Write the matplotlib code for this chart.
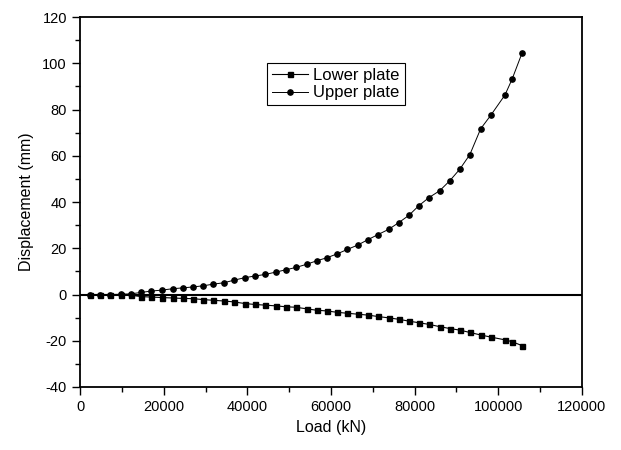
import matplotlib
matplotlib.use("Agg")
import matplotlib.pyplot as plt
from matplotlib.ticker import MultipleLocator

plt.rcParams['font.family'] = ['Liberation Sans', 'DejaVu Sans']
plt.rcParams['axes.unicode_minus'] = False

# load steps (kN), shared by both plates
load = [2400, 4800, 7200, 9700, 12100, 14600, 17000, 19500, 22100, 24700,
        27100, 29500, 31900, 34400, 36800, 39400, 41800, 44300, 46800, 49200,
        51600, 54200, 56600, 59000, 61500, 63900, 66400, 68800, 71200, 73800,
        76200, 78600, 81000, 83400, 86000, 88400, 90800, 93200, 95800, 98200,
        101600, 103300, 105700]

lower_plate = [0, 0, 0, 0, -0.3, -0.9, -1.1, -1.3, -1.5, -1.7,
               -1.8, -2.2, -2.5, -2.8, -3.2, -3.9, -4.3, -4.6, -4.9, -5.3,
               -5.5, -6.2, -6.8, -7.1, -7.7, -8.1, -8.5, -8.9, -9.5, -10.1,
               -10.7, -11.5, -12.2, -12.9, -13.9, -14.7, -15.4, -16.4, -17.5, -18.4,
               -19.6, -20.4, -22.1]

upper_plate = [0, 0, 0, 0.1, 0.3, 0.9, 1.5, 1.9, 2.5, 2.9,
               3.3, 3.8, 4.5, 5.1, 6.2, 7.3, 8.0, 8.7, 9.7, 10.7,
               11.7, 13.1, 14.6, 15.9, 17.6, 19.5, 21.4, 23.7, 25.9, 28.2,
               31.1, 34.2, 38.4, 41.9, 44.9, 49.2, 54.2, 60.5, 71.7, 77.5,
               86.3, 93.1, 104.5]

fig = plt.figure(figsize=(6.21, 4.5), dpi=100)
ax = fig.add_axes([0.129, 0.14, 0.808, 0.822])

ax.plot(load, lower_plate, color='black', lw=0.8, marker='s', ms=3.6,
        label='Lower plate')
ax.plot(load, upper_plate, color='black', lw=0.7, marker='o', ms=3.8,
        label='Upper plate')
ax.axhline(0, color='black', lw=1.5, zorder=1)

ax.set_xlim(0, 120000)
ax.set_ylim(-40, 120)
ax.xaxis.set_major_locator(MultipleLocator(20000))
ax.xaxis.set_minor_locator(MultipleLocator(10000))
ax.yaxis.set_major_locator(MultipleLocator(20))
ax.yaxis.set_minor_locator(MultipleLocator(10))
ax.tick_params(which='major', length=6, width=1, labelsize=10.5)
ax.tick_params(which='minor', length=3.5, width=1)
for s in ax.spines.values():
    s.set_linewidth(1.3)

ax.set_xlabel('Load (kN)', fontsize=11.5)
ax.set_ylabel('Displacement (mm)', fontsize=11.5, labelpad=6)

leg = ax.legend(loc='upper left', bbox_to_anchor=(0.372, 0.876),
                borderaxespad=0, fancybox=False, edgecolor='black',
                framealpha=1, fontsize=12, handlelength=2.2,
                handletextpad=0.3, borderpad=0.3, labelspacing=0.15)
leg.get_frame().set_linewidth(0.8)

fig.savefig('out.png', dpi=100)
